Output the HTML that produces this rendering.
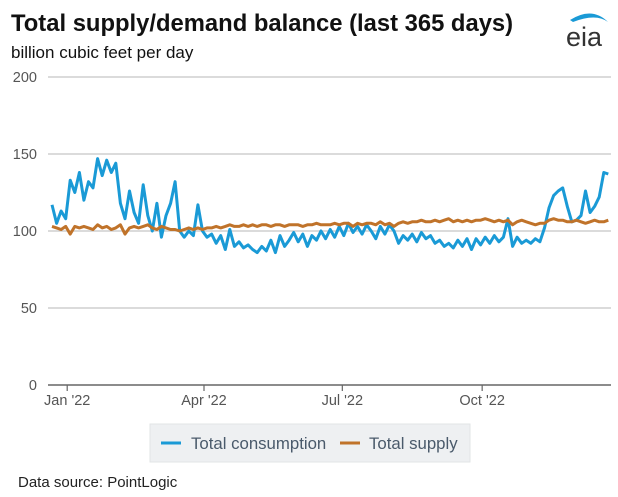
<!DOCTYPE html>
<html><head><meta charset="utf-8"><style>
body{margin:0;background:#fff;font-family:"Liberation Sans",Arial,sans-serif;}
svg{display:block}
</style></head><body>
<svg id="chart" width="618" height="497" viewBox="0 0 618 497">
<text x="11" y="31" font-size="23.8" font-weight="bold" fill="#111">Total supply/demand balance (last 365 days)</text>
<text x="11" y="58" font-size="17" fill="#111">billion cubic feet per day</text>
<g>
<path d="M570 20 Q592 6 608 22 Q596 13 573 22 Z" fill="#1a9ad6"/>
<text x="566" y="46" font-size="27" fill="#333">eia</text>
</g>
<g id="grid"></g>
<g id="series"></g>
<g>
<rect x="150" y="424" width="320" height="38" fill="#eef0f2" stroke="#e2e4e6"/>
<line x1="161" y1="443" x2="181" y2="443" stroke="#1a9ad6" stroke-width="3"/>
<text x="191" y="449" font-size="16.8" fill="#4a5a6b">Total consumption</text>
<line x1="340" y1="443" x2="360" y2="443" stroke="#c0732a" stroke-width="3"/>
<text x="369" y="449" font-size="16.8" fill="#4a5a6b">Total supply</text>
</g>
<text x="18" y="487" font-size="15" fill="#222">Data source: PointLogic</text>
</svg>
<script>
const yTicks=[0,50,100,150,200];
const xTickLabels=["Jan '22","Apr '22","Jul '22","Oct '22"];
const xTickDays=[10,100,191,283];
const stepDays=3;
const consumption=[117,105,113,108,133,125,138,120,132,128,147,136,146,138,144,118,108,126,112,105,130,110,100,118,96,110,118,132,100,96,100,97,117,100,96,98,92,97,88,101,90,93,89,91,88,86,90,87,94,86,97,90,94,99,93,98,90,97,94,100,95,101,96,103,97,105,99,103,98,104,100,95,103,98,104,100,92,97,94,98,93,99,95,97,92,94,90,92,89,94,90,95,88,95,91,96,92,97,93,96,108,90,96,92,94,92,95,93,102,115,123,126,128,116,106,107,110,126,112,116,122,138,137];
const supply=[103,102,101,103,98,103,102,103,102,101,104,102,103,101,102,104,98,102,103,102,103,104,102,101,103,102,101,101,100,101,102,101,102,101,102,102,103,102,103,104,103,103,104,103,104,103,104,104,103,104,104,103,104,104,104,103,104,104,105,104,104,104,105,104,105,105,103,105,104,105,105,104,106,104,105,103,105,106,105,106,106,107,106,106,107,106,107,108,106,107,106,107,106,107,107,108,107,106,107,106,107,104,106,107,106,105,104,105,105,107,108,107,107,106,106,107,106,105,106,107,106,106,107];
const NS='http://www.w3.org/2000/svg';
const x0=52,pxPerDay=1.52,plotL=48,plotR=611,yBase=385,pxPerUnit=1.54;
function xs(d){return x0+d*pxPerDay;}
function ys(v){return yBase-v*pxPerUnit;}
const grid=document.getElementById('grid'),ser=document.getElementById('series');
yTicks.forEach(function(t){
  const l=document.createElementNS(NS,'line');
  l.setAttribute('x1',plotL);l.setAttribute('x2',plotR);l.setAttribute('y1',ys(t));l.setAttribute('y2',ys(t));
  l.setAttribute('stroke',t===0?'#666':'#cfcfcf');l.setAttribute('stroke-width',1.6);
  
  
  grid.appendChild(l);
  const tx=document.createElementNS(NS,'text');
  tx.setAttribute('x',37);tx.setAttribute('y',ys(t)+5);tx.setAttribute('text-anchor','end');
  tx.setAttribute('font-size','14.5');tx.setAttribute('fill','#555');tx.textContent=t;
  
  
  grid.appendChild(tx);
});
xTickLabels.forEach(function(lab,i){
  const x=xs(xTickDays[i]);
  const tk=document.createElementNS(NS,'line');
  tk.setAttribute('x1',x);tk.setAttribute('x2',x);tk.setAttribute('y1',yBase);tk.setAttribute('y2',yBase+6);
  tk.setAttribute('stroke','#666');tk.setAttribute('stroke-width','1.2');
  
  
  grid.appendChild(tk);
  const tx=document.createElementNS(NS,'text');
  tx.setAttribute('x',x);tx.setAttribute('y',yBase+20);tx.setAttribute('text-anchor','middle');
  tx.setAttribute('font-size','14.5');tx.setAttribute('fill','#555');tx.textContent=lab;
  
  
  grid.appendChild(tx);
});
function drawLine(arr,color,name){
  const span=(consumption.length-1)*stepDays;
  const st=span/(arr.length-1);
  const pts=arr.map(function(v,i){return xs(i*st).toFixed(1)+','+ys(v).toFixed(1);}).join(' ');
  const p=document.createElementNS(NS,'polyline');
  p.setAttribute('points',pts);p.setAttribute('fill','none');p.setAttribute('stroke',color);
  p.setAttribute('stroke-width','3');p.setAttribute('stroke-linejoin','round');
  
  
  ser.appendChild(p);
}
drawLine(consumption,'#1a9ad6','consumption-line');
drawLine(supply,'#c0732a','supply-line');
</script>
</body></html>
